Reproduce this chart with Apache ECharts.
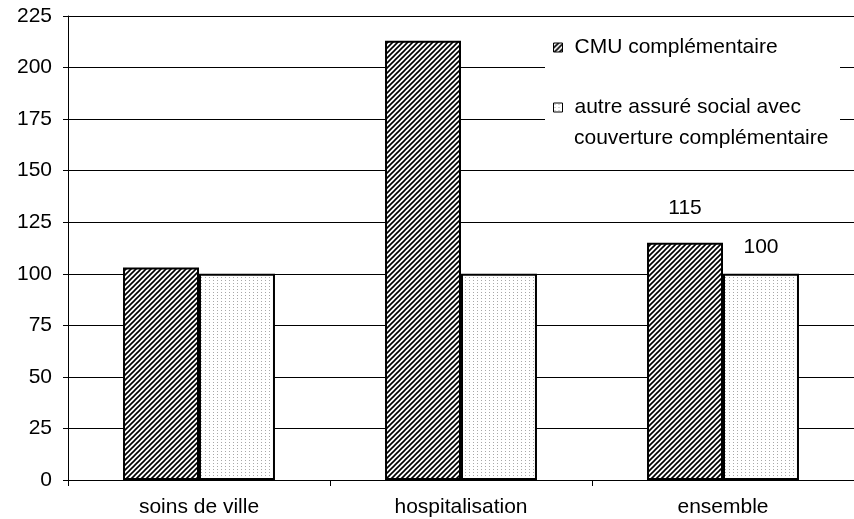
<!DOCTYPE html>
<html>
<head>
<meta charset="utf-8">
<script src="https://cdn.jsdelivr.net/npm/echarts@6/dist/echarts.min.js"></script>
<style>
  html, body { margin: 0; padding: 0; background: #fff; }
  #chart { width: 854px; height: 519px; }
</style>
</head>
<body>
<div id="chart"></div>
<script>
var categories = ['soins de ville', 'hospitalisation', 'ensemble'];
var cmuValues = [103, 213, 115];
var autreValues = [100, 100, 100];
var yTicks = [0, 25, 50, 75, 100, 125, 150, 175, 200, 225];
var seriesNames = ['CMU complémentaire', 'autre assuré social avec couverture complémentaire'];

// hachures pour la CMU
function hatch() {
  var c = document.createElement('canvas');
  c.width = 5; c.height = 5;
  var ctx = c.getContext('2d');
  ctx.fillStyle = '#fff';
  ctx.fillRect(0, 0, 5, 5);
  ctx.strokeStyle = '#000';
  ctx.lineWidth = 1.6;
  ctx.beginPath();
  ctx.moveTo(-1, 6); ctx.lineTo(6, -1);
  ctx.moveTo(-1, 1); ctx.lineTo(1, -1);
  ctx.moveTo(4, 6); ctx.lineTo(6, 4);
  ctx.stroke();
  return c;
}
// petits points gris pour l'autre série
function dots() {
  var c = document.createElement('canvas');
  c.width = 4; c.height = 3;
  var ctx = c.getContext('2d');
  ctx.fillStyle = '#fff';
  ctx.fillRect(0, 0, 4, 3);
  ctx.fillStyle = '#a8a8a8';
  ctx.fillRect(1, 1, 1, 1);
  return c;
}

var chart = echarts.init(document.getElementById('chart'));
var font = 'Liberation Sans, Arial, sans-serif';
var fs = 21;
// distance des étiquettes au-dessus des barres (seulement "ensemble")
var labelDist = [24, 16];

function barData(values, s) {
  return values.map(function (v, i) {
    return { value: v, label: { show: i === 2, distance: labelDist[s] } };
  });
}

chart.setOption({
  animation: false,
  textStyle: { fontFamily: font },
  grid: { left: 68, right: -3, top: 16, bottom: 39 },
  legend: {
    orient: 'vertical',
    left: 545,
    top: 20,
    padding: [12, 8, 12, 8],
    itemWidth: 9,
    itemHeight: 9,
    itemGap: 29,
    icon: 'rect',
    data: seriesNames,
    formatter: function (name) {
      return name === seriesNames[1] ? 'autre assuré social avec' : name;
    },
    itemStyle: { borderWidth: 1, borderColor: '#000' },
    textStyle: { fontSize: fs, color: '#000', fontFamily: font, lineHeight: 31, padding: [0, 0, 0, 7] }
  },
  graphic: [
    { type: 'rect', left: 545, top: 20, z: 2, silent: true,
      shape: { width: 295, height: 146 }, style: { fill: '#fff' } },
    { type: 'text', left: 574, top: 128, z: 10, silent: true,
      style: { text: 'couverture complémentaire', font: fs + 'px ' + font, fill: '#000' } }
  ],
  xAxis: {
    type: 'category',
    data: categories,
    axisLine: { lineStyle: { color: '#000', width: 1 } },
    axisTick: { show: true, length: 6, lineStyle: { color: '#000' } },
    axisLabel: { fontSize: fs, color: '#000', margin: 17 }
  },
  yAxis: {
    type: 'value',
    min: yTicks[0],
    max: yTicks[yTicks.length - 1],
    interval: 25,
    axisLine: { show: true, lineStyle: { color: '#000', width: 1 } },
    axisTick: { show: true, length: 5, lineStyle: { color: '#000' } },
    axisLabel: { fontSize: fs, color: '#000', margin: 16 },
    splitLine: { show: true, lineStyle: { color: '#000', width: 1 } }
  },
  series: [
    {
      name: seriesNames[0],
      type: 'bar',
      barGap: '0%',
      barCategoryGap: '42%',
      data: barData(cmuValues, 0),
      itemStyle: { color: { image: hatch(), repeat: 'repeat' }, borderColor: '#000', borderWidth: 2 },
      label: { position: 'top', fontSize: fs, color: '#000' }
    },
    {
      name: seriesNames[1],
      type: 'bar',
      data: barData(autreValues, 1),
      itemStyle: { color: { image: dots(), repeat: 'repeat' }, borderColor: '#000', borderWidth: 2 },
      label: { position: 'top', fontSize: fs, color: '#000' }
    }
  ]
});
</script>
</body>
</html>
